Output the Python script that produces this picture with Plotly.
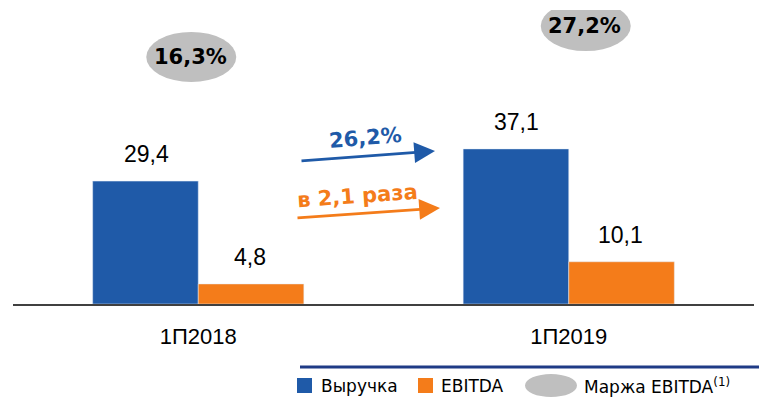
import plotly.graph_objects as go

periods = ["1П2018", "1П2019"]
revenue = [29.4, 37.1]
ebitda = [4.8, 10.1]
margin = ["16,3%", "27,2%"]
growth_labels = ["26,2%", "в 2,1 раза"]

BLUE = "#1F5AA8"
ORANGE = "#F47C1A"
GREY = "#BFBFBF"

OFF = 8  # page body margin
W, H = 767 - OFF, 400 - OFF
L, R, T, B = 5, 13, 2, 96
PW, PH = W - L - R, H - T - B


# reference pixel -> paper coords
def px(x):
    return (x - OFF - L) / PW


def py(y):
    return (H - B - (y - OFF)) / PH


def fmt(v):
    return f"{v:.1f}".replace(".", ",")


fig = go.Figure()
fig.add_trace(go.Bar(x=periods, y=revenue, name="Выручка", marker_color=BLUE))
fig.add_trace(go.Bar(x=periods, y=ebitda, name="EBITDA", marker_color=ORANGE))

ann = []
shapes = []

# value labels above bars
for i, p in enumerate(periods):
    for v, off in ((revenue[i], -52), (ebitda[i], 52)):
        ann.append(dict(x=i, y=v, xref="x", yref="y", text=fmt(v), showarrow=False,
                        xshift=off, yshift=27, yanchor="middle",
                        font=dict(family="Liberation Sans, Arial", size=23, color="#000")))

# margin bubbles
bubble_y = [59.1, 66.5]
bubble_dx = [-7, 17]
for i, m in enumerate(margin):
    shapes.append(dict(type="circle", xref="x", yref="y", xsizemode="pixel", ysizemode="pixel",
                       xanchor=i, yanchor=bubble_y[i],
                       x0=bubble_dx[i] - 45, x1=bubble_dx[i] + 45, y0=-25, y1=25,
                       fillcolor=GREY, line=dict(width=0), layer="above"))
    ann.append(dict(x=i, y=bubble_y[i], xref="x", yref="y", text="<b>" + m + "</b>",
                    showarrow=False, xshift=bubble_dx[i] - 1,
                    font=dict(family="DejaVu Sans", size=21, color="#000")))

# growth arrows
ann.append(dict(x=px(435), y=py(151), xref="paper", yref="paper", text="", showarrow=True,
                ax=-135, ay=10, arrowhead=2, arrowsize=1.6, arrowwidth=2.6, arrowcolor=BLUE))
ann.append(dict(x=px(440), y=py(208), xref="paper", yref="paper", text="", showarrow=True,
                ax=-144, ay=10, arrowhead=2, arrowsize=1.6, arrowwidth=2.6, arrowcolor=ORANGE))
ann.append(dict(x=px(365), y=py(138), xref="paper", yref="paper", text="<b>" + growth_labels[0] + "</b>",
                showarrow=False, textangle=-5,
                font=dict(family="DejaVu Sans", size=21, color=BLUE)))
ann.append(dict(x=px(357), y=py(196), xref="paper", yref="paper", text="<b>" + growth_labels[1] + "</b>",
                showarrow=False, textangle=-4,
                font=dict(family="DejaVu Sans", size=21, color=ORANGE)))

# custom legend
shapes.append(dict(type="line", xref="paper", yref="paper", x0=px(300), x1=px(767),
                   y0=py(367), y1=py(367), line=dict(color="#1F3B86", width=3)))
shapes.append(dict(type="rect", xref="paper", yref="paper", x0=px(297), x1=px(312),
                   y0=py(378), y1=py(393), fillcolor=BLUE, line=dict(width=0)))
shapes.append(dict(type="rect", xref="paper", yref="paper", x0=px(418), x1=px(433),
                   y0=py(378), y1=py(393), fillcolor=ORANGE, line=dict(width=0)))
shapes.append(dict(type="circle", xref="paper", yref="paper", x0=px(525), x1=px(577),
                   y0=py(374), y1=py(397), fillcolor=GREY, line=dict(width=0)))
leg_font = dict(family="DejaVu Sans", size=17, color="#000")
for x0, t in ((319, "Выручка"), (439, "EBITDA"), (582, "Маржа EBITDA<sup>(1)</sup>")):
    ann.append(dict(x=px(x0), y=py(386), xref="paper", yref="paper", text=t, showarrow=False,
                    xanchor="left", yanchor="middle", font=leg_font))

fig.update_layout(
    width=W, height=H,
    margin=dict(l=L, r=R, t=T, b=B),
    plot_bgcolor="white", paper_bgcolor="white",
    barmode="group", bargap=0.43, bargroupgap=0,
    showlegend=False,
    annotations=ann, shapes=shapes,
)
fig.update_xaxes(showline=True, linecolor="#404040", linewidth=2, showgrid=False,
                 ticks="", ticklabelstandoff=12,
                 tickfont=dict(family="Liberation Sans, Arial", size=22, color="#000"))
fig.update_yaxes(visible=False, range=[0, PH / 4.18])

fig.write_html("out.html")
